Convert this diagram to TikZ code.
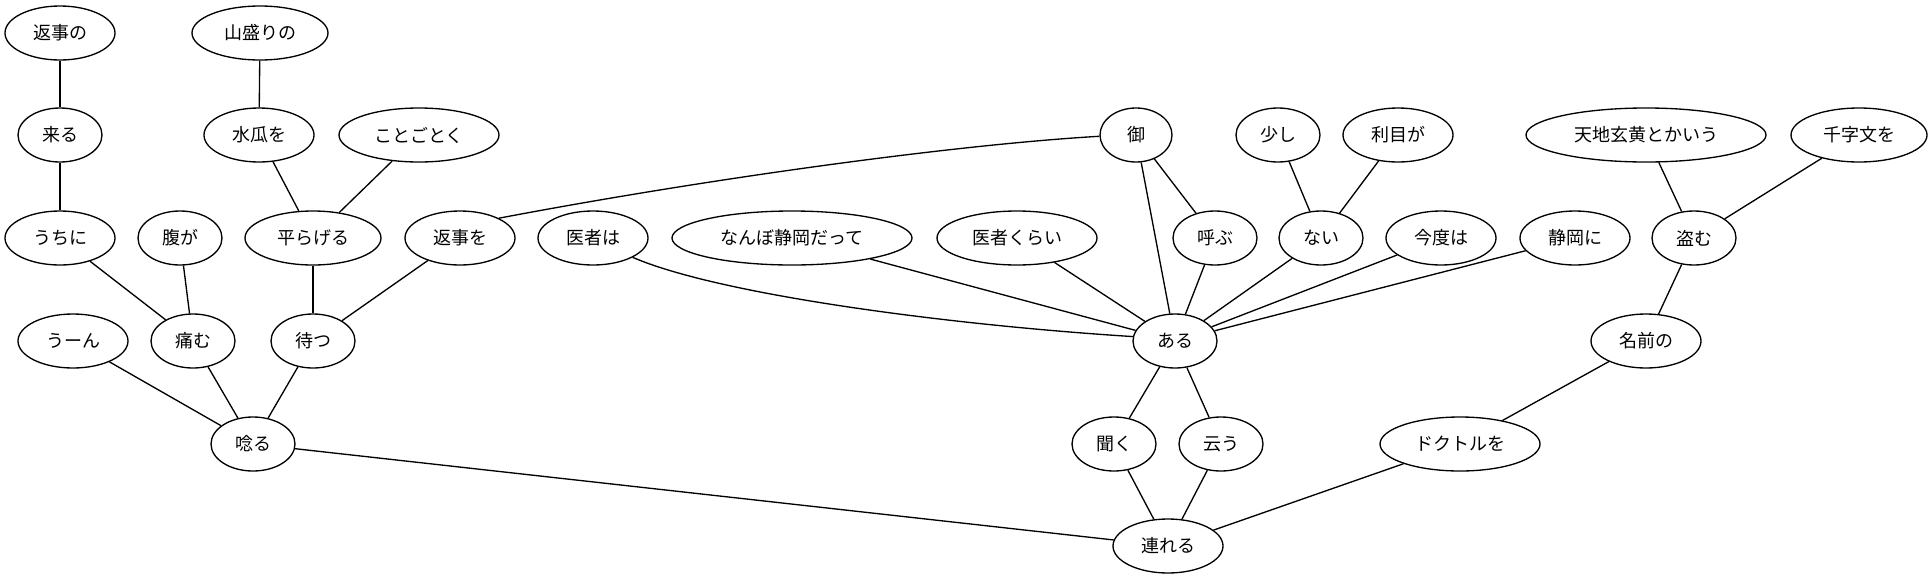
\documentclass[tikz,border=0pt]{standalone}
\usepackage{fontspec}
\setmainfont{Noto Sans CJK JP}
\usetikzlibrary{shapes.geometric}
\begin{document}
\begin{tikzpicture}[x=0.75pt,y=-0.75pt,
 nd/.style={ellipse, draw, line width=1pt, inner sep=0pt, minimum height=40.5pt, font=\fontsize{13.5}{14}\selectfont},
 wa/.style={nd, minimum width=54pt},
 wb/.style={nd, minimum width=63pt},
 wc/.style={nd, minimum width=82.5pt},
 wd/.style={nd, minimum width=102pt},
 we/.style={nd, minimum width=120pt},
 wf/.style={nd, minimum width=180pt},
 ln/.style={line width=1pt}]
\useasboundingbox (0,0) rectangle (1932,579);
% row 1
\node[wc] (hennojino) at (60,33) {返事の};
\node[wd] (yamamori) at (260,33) {山盛りの};
% row 2
\node[wb] (kuru) at (60,135) {来る};
\node[wc] (suika) at (259,135) {水瓜を};
\node[we] (kotogoto) at (419,135) {ことごとく};
\node[wa] (go) at (1136,135) {御};
\node[wb] (sukoshi) at (1278,135) {少し};
\node[wc] (kikime) at (1398,135) {利目が};
\node[wf] (tenchi) at (1646,135) {天地玄黄とかいう};
\node[wd] (senji) at (1859,135) {千字文を};
% row 3
\node[wc] (uchini) at (60,238) {うちに};
\node[wb] (haraga) at (180,238) {腹が};
\node[wd] (tairage) at (313,238) {平らげる};
\node[wc] (henjiwo) at (460,238) {返事を};
\node[wc] (ishawa) at (593,238) {医者は};
\node[wf] (nanbo) at (792,238) {なんぼ静岡だって};
\node[we] (ishakurai) at (1017,238) {医者くらい};
\node[wb] (yobu) at (1215,238) {呼ぶ};
\node[wb] (nai) at (1321,238) {ない};
\node[wc] (kondo) at (1441,238) {今度は};
\node[wc] (shizuokani) at (1575,238) {静岡に};
\node[wb] (nusumu) at (1694,238) {盗む};
% row 4
\node[wc] (uun) at (73,341) {うーん};
\node[wb] (itamu) at (193,341) {痛む};
\node[wb] (matsu) at (313,341) {待つ};
\node[wb] (aru) at (1175,341) {ある};
\node[wc] (namae) at (1646,341) {名前の};
% row 5
\node[wb] (unaru) at (253,444) {唸る};
\node[wb] (kiku) at (1114,444) {聞く};
\node[wb] (iu) at (1221,444) {云う};
\node[we] (dokutoru) at (1460,444) {ドクトルを};
% row 6
\node[wc] (tsureru) at (1168,546) {連れる};
% edges
\draw[ln] (hennojino) -- (kuru);
\draw[ln] (kuru) -- (uchini);
\draw[ln] (uchini) -- (itamu);
\draw[ln] (haraga) -- (itamu);
\draw[ln] (yamamori) -- (suika);
\draw[ln] (suika) -- (tairage);
\draw[ln] (kotogoto) -- (tairage);
\draw[ln] (tairage) -- (matsu);
\draw[ln] (henjiwo) -- (matsu);
\draw[ln] (uun) -- (unaru);
\draw[ln] (itamu) -- (unaru);
\draw[ln] (matsu) -- (unaru);
\draw[ln] (unaru) -- (tsureru);
\draw[ln] (henjiwo.27) .. controls (700,180) and (950,145) .. (go.182);
\draw[ln] (go) -- (yobu);
\draw[ln] (go) -- (aru);
\draw[ln] (ishawa.-26) .. controls (720,295) and (950,325) .. (aru.174);
\draw[ln] (nanbo) -- (aru);
\draw[ln] (ishakurai) -- (aru);
\draw[ln] (yobu) -- (aru);
\draw[ln] (sukoshi) -- (nai);
\draw[ln] (kikime) -- (nai);
\draw[ln] (nai) -- (aru);
\draw[ln] (kondo) -- (aru);
\draw[ln] (shizuokani) -- (aru);
\draw[ln] (aru) -- (kiku);
\draw[ln] (aru) -- (iu);
\draw[ln] (kiku) -- (tsureru);
\draw[ln] (iu) -- (tsureru);
\draw[ln] (tenchi) -- (nusumu);
\draw[ln] (senji) -- (nusumu);
\draw[ln] (nusumu) -- (namae);
\draw[ln] (namae) -- (dokutoru);
\draw[ln] (dokutoru) -- (tsureru);
\end{tikzpicture}
\end{document}
